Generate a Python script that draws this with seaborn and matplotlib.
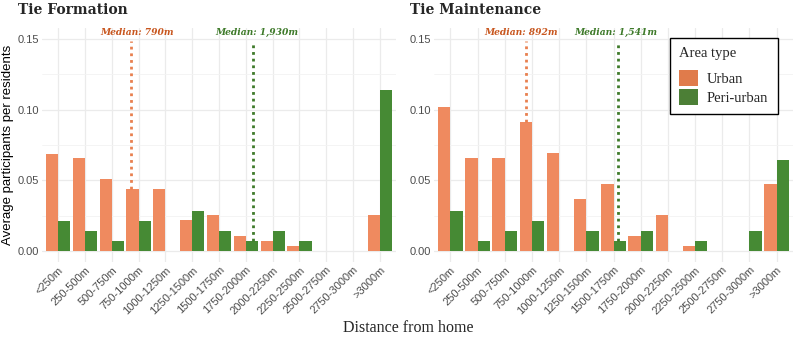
import numpy as np
import pandas as pd
import matplotlib.pyplot as plt
import seaborn as sns
from matplotlib.patches import Patch

# --- data ---
bins = ['<250m', '250-500m', '500-750m', '750-1000m', '1000-1250m', '1250-1500m',
        '1500-1750m', '1750-2000m', '2000-2250m', '2250-2500m', '2500-2750m',
        '2750-3000m', '>3000m']
area_types = ['Urban', 'Peri-urban']

formation_urban = [0.069, 0.0656, 0.051, 0.0438, 0.0438, 0.0218, 0.0255,
                   0.0109, 0.0072, 0.0037, 0.0, 0.0, 0.0255]
formation_peri = [0.0216, 0.0143, 0.0072, 0.0216, 0.0, 0.0287, 0.0143,
                  0.0072, 0.0143, 0.0072, 0.0, 0.0, 0.114]

maintenance_urban = [0.1018, 0.0655, 0.0655, 0.0909, 0.0692, 0.0366, 0.0473,
                     0.0108, 0.0256, 0.0037, 0.0, 0.0, 0.0473]
maintenance_peri = [0.0286, 0.0071, 0.0142, 0.0215, 0.0, 0.0142, 0.0071,
                    0.0142, 0.0, 0.0071, 0.0, 0.0142, 0.0642]

# medians: label text, dotted line position, label centre (category units), bin the line drops onto
formation_medians = [('Median: 790m', 2.71, 2.94, 3), ('Median: 1,930m', 7.28, 7.41, 7)]
maintenance_medians = [('Median: 892m', 2.77, 2.59, 3), ('Median: 1,541m', 6.17, 6.08, 6)]

bar_colors = {'Urban': '#EF8A5F', 'Peri-urban': '#468A34'}
legend_colors = ['#E07B4B', '#4C7F36']
line_colors = ['#E8804F', '#3E7A2A']
text_colors = ['#C8561E', '#3E7A2A']

sns.set_theme(style="whitegrid")
plt.rcParams['font.family'] = ['Liberation Sans', 'DejaVu Sans']

fig = plt.figure(figsize=(7.94, 3.38), dpi=100)
W, H = 794, 338
top, bottom = 28, 262
ax1 = fig.add_axes([42 / W, (H - bottom) / H, 354 / W, (bottom - top) / H])
ax2 = fig.add_axes([434 / W, (H - bottom) / H, 359 / W, (bottom - top) / H])


def draw_panel(ax, urban, peri, medians, title, title_x):
    df = pd.DataFrame({
        'bin': bins * 2,
        'area': ['Urban'] * len(bins) + ['Peri-urban'] * len(bins),
        'value': urban + peri,
    })
    sns.barplot(data=df, x='bin', y='value', hue='area', hue_order=area_types,
                order=bins, palette=bar_colors, width=0.9, gap=0,
                linewidth=0, saturation=1, ax=ax, legend=False, zorder=3)
    vals = [urban, peri]
    for i, (lab, xline, xlab, b) in enumerate(medians):
        ax.vlines(xline, vals[i][b], 0.148, colors=line_colors[i],
                  linestyles=(0, (1, 1.4)), linewidth=2.0, zorder=4)
        ax.text(xlab, 0.1512, lab, color=text_colors[i], ha='center', va='bottom',
                fontsize=6.6, fontweight='bold', fontstyle='italic',
                family=['DejaVu Serif'])
    ax.set_xlim(-0.6, len(bins) - 0.4)
    ax.set_ylim(-0.0075, 0.1575)
    ax.set_yticks([0, 0.05, 0.10, 0.15])
    ax.set_yticklabels(['0.00', '0.05', '0.10', '0.15'])
    ax.set_yticks([0.025, 0.075, 0.125], minor=True)
    ax.grid(True, which='major', color='#EBEBEB', linewidth=0.9)
    ax.grid(True, which='minor', axis='y', color='#F3F3F3', linewidth=0.6)
    ax.set_axisbelow(True)
    for s in ax.spines.values():
        s.set_visible(False)
    ax.set_facecolor('white')
    ax.tick_params(axis='both', which='both', length=0, labelsize=8,
                   labelcolor='#4D4D4D', pad=2)
    plt.setp(ax.get_xticklabels(), rotation=45, ha='right', rotation_mode='anchor')
    ax.set_xlabel('')
    ax.set_ylabel('')
    fig.text(title_x / W, 1 - 14 / H, title, fontsize=10, fontweight='bold',
             family=['DejaVu Serif'], ha='left', va='baseline')


draw_panel(ax1, formation_urban, formation_peri, formation_medians, 'Tie Formation', 18)
draw_panel(ax2, maintenance_urban, maintenance_peri, maintenance_medians, 'Tie Maintenance', 410)

fig.text(8 / W, 1 - 145 / H, 'Average participants per residents', rotation=90,
         ha='center', va='center', fontsize=9.5, color='black')
fig.text(408 / W, 1 - 328 / H, 'Distance from home', ha='center', va='center',
         fontsize=11.5, family=['Liberation Serif'])

handles = [Patch(facecolor=c, edgecolor='none') for c in legend_colors]
leg = ax2.legend(handles, area_types, title='Area type', loc='upper right',
                 bbox_to_anchor=(0.958, 0.958), borderaxespad=0, frameon=True,
                 fancybox=False, prop={'family': 'Liberation Serif', 'size': 10.5},
                 title_fontproperties={'family': 'Liberation Serif', 'size': 10.5},
                 handlelength=1.3, handleheight=1.3, handletextpad=0.6,
                 labelspacing=0.2, borderpad=0.65, alignment='left')
leg._legend_box.sep = 7
leg.get_frame().set_edgecolor('black')
leg.get_frame().set_linewidth(1.0)
leg.get_frame().set_facecolor('white')
leg.get_frame().set_alpha(1)

fig.savefig('out.png', dpi=100)
